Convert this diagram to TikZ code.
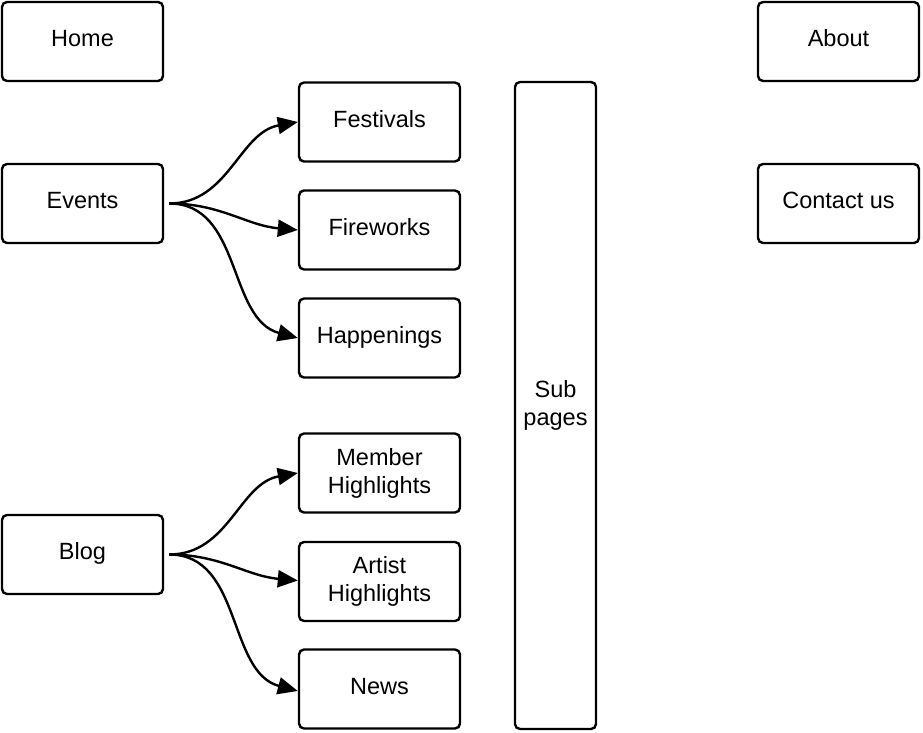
\documentclass[tikz,border=0pt]{standalone}
\usepackage{fontspec}
\setmainfont{Liberation Sans}
\usetikzlibrary{arrows.meta}
\begin{document}
\begin{tikzpicture}[x=1pt,y=-1pt,
  box/.style={draw,line width=2.4pt,rounded corners=5pt,minimum width=161pt,minimum height=79pt,
    inner sep=0pt,align=center,font=\fontsize{23.5}{28}\selectfont},
  single/.style={text height=16pt,text depth=5.2pt},
  conn/.style={line width=2.4pt,-{Triangle[length=20pt,width=17pt]}}]
\useasboundingbox (0,0) rectangle (923,733);
\node[box,single] (home) at (82.5,41.5) {Home};
\node[box,single] (about) at (838.5,41.5) {About};
\node[box,single] (events) at (82.5,203.5) {Events};
\node[box,single] (contact) at (838.5,203.5) {Contact us};
\node[box,single] (fest) at (379.5,122) {Festivals};
\node[box,single] (fire) at (379.5,230) {Fireworks};
\node[box,single] (happ) at (379.5,338) {Happenings};
\node[box] (member) at (379.5,473) {Member\\Highlights};
\node[box] (artist) at (379.5,581.5) {Artist\\Highlights};
\node[box,single] (news) at (379.5,689) {News};
\node[box,single] (blog) at (82.5,554.5) {Blog};
\node[box,minimum width=81pt,minimum height=647pt] (sub) at (555.5,405.5) {Sub\\pages};
\coordinate (es) at ([xshift=5pt]events.east);
\coordinate (bs) at ([xshift=5pt]blog.east);
\draw[conn] (es) to[out=0,in=190] (fest.west);
\draw[conn] (es) to[out=0,in=175] (fire.west);
\draw[conn] (es) to[out=0,in=165] (happ.west);
\draw[conn] (bs) to[out=0,in=190] (member.west);
\draw[conn] (bs) to[out=0,in=175] ([yshift=1pt]artist.west);
\draw[conn] (bs) to[out=0,in=165] ([yshift=-2pt]news.west);
\end{tikzpicture}
\end{document}
